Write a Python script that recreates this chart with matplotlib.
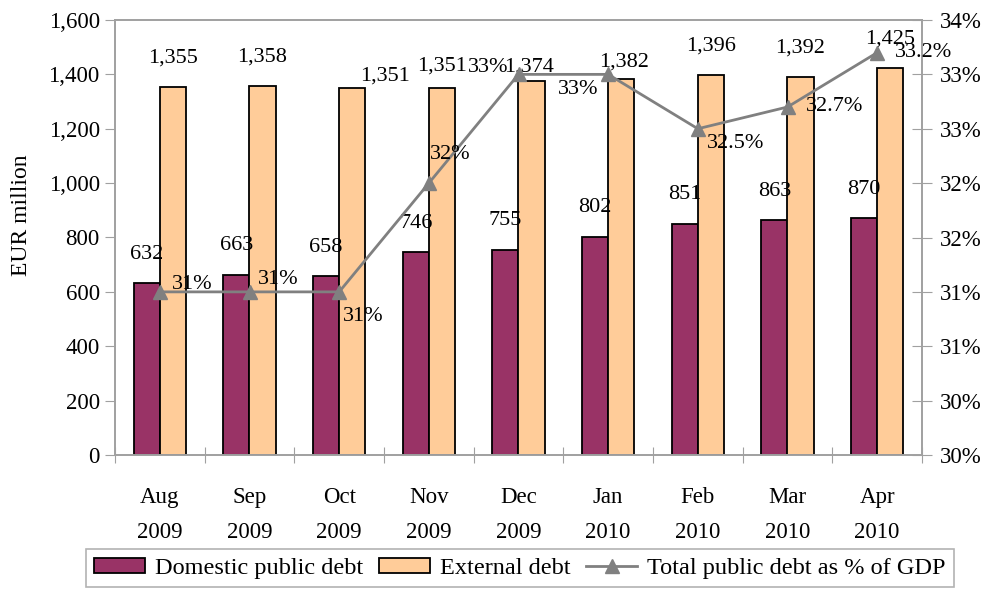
import math

import matplotlib
matplotlib.use("Agg")
import matplotlib.pyplot as plt
import numpy as np
from matplotlib.ticker import FixedLocator, FuncFormatter

plt.rcParams["font.family"] = ["Liberation Serif", "DejaVu Serif"]
plt.rcParams["font.size"] = 16

# ---- data --------------------------------------------------------------
months = ["Aug\n2009", "Sep\n2009", "Oct\n2009", "Nov\n2009", "Dec\n2009",
          "Jan\n2010", "Feb\n2010", "Mar\n2010", "Apr\n2010"]
domestic = [632, 663, 658, 746, 755, 802, 851, 863, 870]
external = [1355, 1358, 1351, 1351, 1374, 1382, 1396, 1392, 1425]
debt_gdp = [31.0, 31.0, 31.0, 32.0, 33.0, 33.0, 32.5, 32.7, 33.2]
debt_gdp_labels = ["31%", "31%", "31%", "32%", "33%", "33%", "32.5%", "32.7%", "33.2%"]

# label placement (pixels) -- hand-tuned like the source chart
ext_offsets = [(0, 29), (0, 29), (33, 12), (0, 22), (-2, 14), (3, 17),
               (0, 29), (0, 29), (0, 29)]
pct_offsets = [(12, 7, "left"), (8, 12, "left"), (4, -25, "left"),
               (1, 29, "left"), (-10, 7, "right"), (-10, -15, "right"),
               (9, -15, "left"), (18, 0, "left"), (18, 0, "left")]

DOM_COLOR = "#993366"
EXT_COLOR = "#FFCC99"
LINE_COLOR = "#808080"
SPINE_COLOR = "#A0A0A0"

fig = plt.figure(figsize=(9.84, 5.92), dpi=100)
ax = fig.add_axes([115 / 984, 1 - 455 / 592, (922 - 115) / 984, (455 - 20) / 592])

x = np.arange(len(months))
w = 0.29
b1 = ax.bar(x - w / 2, domestic, w, color=DOM_COLOR, edgecolor="black",
            linewidth=1.3, label="Domestic public debt", zorder=2)
b2 = ax.bar(x + w / 2, external, w, color=EXT_COLOR, edgecolor="black",
            linewidth=1.3, label="External debt", zorder=2)

for xi, v in zip(x, domestic):
    ax.annotate(f"{v:,}", (xi - w / 2, v), xytext=(0, 29),
                textcoords="offset pixels", ha="center", va="center", zorder=5)
for xi, v, (dx, dy) in zip(x, external, ext_offsets):
    ax.annotate(f"{v:,}", (xi + w / 2, v), xytext=(dx, dy),
                textcoords="offset pixels", ha="center", va="center", zorder=5)

ax.set_ylim(0, 1600)
ax.set_xlim(-0.5, len(months) - 0.5)
ax.set_yticks(np.arange(0, 1601, 200))
ax.yaxis.set_major_formatter(FuncFormatter(lambda v, p: f"{int(v):,}"))

# category boundaries get the tick marks, centres get the labels
ax.xaxis.set_major_locator(FixedLocator(np.arange(-0.5, len(months), 1.0)))
ax.xaxis.set_minor_locator(FixedLocator(x))
ax.set_xticklabels([], minor=False)
ax.set_xticklabels(months, minor=True, linespacing=1.9, fontsize=16.5)
ax.tick_params(axis="x", which="major", direction="inout", length=12,
               color=SPINE_COLOR)
ax.tick_params(axis="x", which="minor", length=0, pad=23)
ax.tick_params(axis="y", direction="out", length=7, color=SPINE_COLOR,
               pad=4, labelsize=16.5)

for s in ax.spines.values():
    s.set_color(SPINE_COLOR)
    s.set_linewidth(1.2)

fig.text(22 / 984, 1 - 215 / 592, "EUR million", rotation=90, fontsize=17,
         ha="center", va="center")

# ---- right axis: debt as % of GDP --------------------------------------
ax2 = ax.twinx()
ax2.set_ylim(29.5, 33.5)
ax2.set_yticks(np.arange(29.5, 33.51, 0.5))
ax2.yaxis.set_major_formatter(
    FuncFormatter(lambda v, p: f"{math.floor(v + 0.5)}%"))
ax2.tick_params(axis="y", direction="inout", length=14, color=SPINE_COLOR,
                pad=6, labelsize=16.5)
for s in ax2.spines.values():
    s.set_color(SPINE_COLOR)
    s.set_linewidth(1.2)

ln, = ax2.plot(x, debt_gdp, color=LINE_COLOR, lw=2, marker="^", ms=9.5,
               label="Total public debt as % of GDP", zorder=4)
for xi, v, lab, (dx, dy, ha) in zip(x, debt_gdp, debt_gdp_labels, pct_offsets):
    ax2.annotate(lab, (xi, v), xytext=(dx, dy), textcoords="offset pixels",
                 ha=ha, va="center", zorder=5)

leg = fig.legend(handles=[b1, b2, ln], loc="upper center",
                 bbox_to_anchor=(520 / 984, 1 - 549 / 592), ncol=3,
                 frameon=True, fancybox=False, fontsize=17.5,
                 handlelength=2.1, handleheight=0.6, handletextpad=0.4,
                 columnspacing=0.65, borderpad=0.35, borderaxespad=0)
leg.get_frame().set_edgecolor(SPINE_COLOR)
leg.get_frame().set_linewidth(1.2)

fig.savefig("out.png", dpi=100)
